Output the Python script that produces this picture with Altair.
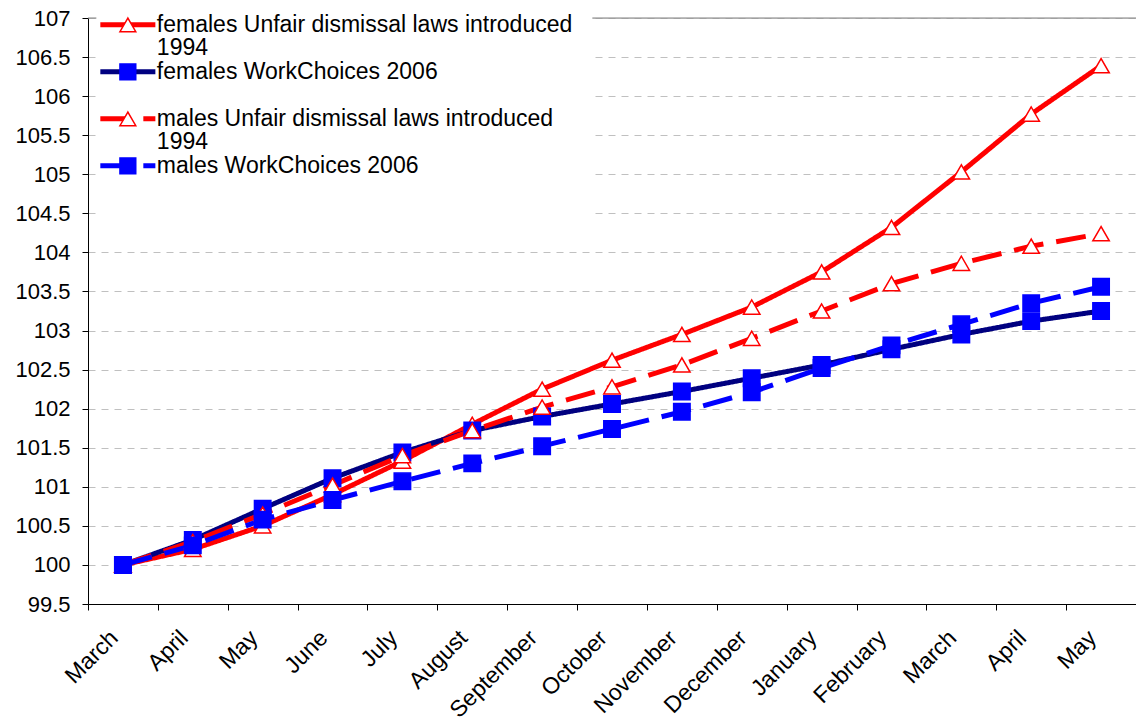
import altair as alt
import pandas as pd

# Month labels along the horizontal axis (March of one year to May of the next)
months = ["March", "April", "May", "June", "July", "August", "September",
          "October", "November", "December", "January", "February",
          "March", "April", "May"]

series_names = [
    "females Unfair dismissal laws introduced 1994",
    "females WorkChoices 2006",
    "males Unfair dismissal laws introduced 1994",
    "males WorkChoices 2006",
]
# Marker layer keys (kept distinct so its legend stays separate from the lines')
marker_keys = [s + " " for s in series_names]

# Index values (starting month = 100)
females_unfair = [100.0, 100.2, 100.5, 100.9, 101.33, 101.8, 102.25, 102.62,
                  102.95, 103.3, 103.75, 104.32, 105.03, 105.77, 106.39]
females_workchoices = [100.0, 100.32, 100.72, 101.11, 101.44, 101.72, 101.9,
                       102.06, 102.22, 102.39, 102.56, 102.76, 102.95, 103.12,
                       103.25]
males_unfair = [100.0, 100.3, 100.65, 101.02, 101.4, 101.72, 102.02, 102.28,
                102.56, 102.9, 103.25, 103.6, 103.86, 104.08, 104.24]
males_workchoices = [100.0, 100.25, 100.58, 100.83, 101.07, 101.3, 101.52,
                     101.74, 101.96, 102.21, 102.52, 102.81, 103.08, 103.35,
                     103.56]

y_ticks = [99.5, 100, 100.5, 101, 101.5, 102, 102.5, 103, 103.5, 104, 104.5,
           105, 105.5, 106, 106.5, 107]

line_colors = ["#FF0000", "#000080", "#FF0000", "#0000FF"]
line_dashes = [[1, 0], [1, 0], [30, 13], [30, 13]]
marker_shapes = ["triangle-up", "square", "triangle-up", "square"]
marker_fills = ["#FFFFFF", "#0000FF", "#FFFFFF", "#0000FF"]
marker_strokes = ["#FF0000", "#0000FF", "#FF0000", "#0000FF"]

rows = []
for name, key, values in zip(series_names, marker_keys,
                             [females_unfair, females_workchoices,
                              males_unfair, males_workchoices]):
    for i, v in enumerate(values):
        rows.append({"idx": i, "value": v, "series": name, "marker": key})
df = pd.DataFrame(rows)

FONT = "Liberation Sans"
month_expr = "[" + ",".join("'%s'" % m for m in months) + "][datum.value]"
wrap_expr = ("indexof(datum.label, ' 1994') > 0 ? "
             "[replace(datum.label, ' 1994', ''), '1994'] : [datum.label, '']")

x_enc = alt.X(
    "idx:O",
    title=None,
    scale=alt.Scale(paddingInner=0, paddingOuter=0),
    axis=alt.Axis(
        labelExpr=month_expr, labelAngle=-45, labelAlign="right",
        labelBaseline="middle", labelPadding=24, labelOffset=-9,
        labelFont=FONT, labelFontSize=23, labelColor="black",
        tickBand="extent", tickSize=6, tickColor="black",
        domainColor="black", grid=False, labelOverlap=False,
    ),
)
y_scale = alt.Scale(domain=[99.5, 107], nice=False, zero=False)
y_axis = alt.Axis(
    values=y_ticks, format="~g", labelFont=FONT, labelFontSize=22,
    labelColor="black", tickSize=6, tickColor="black",
    domainColor="black", labelPadding=12, grid=True, gridColor="#C0C0C0",
    gridDash=[7, 6], minExtent=88, maxExtent=88, labelOverlap=False,
)

# Two legends drawn on top of each other: line samples, then the markers.
# Both use the same entry size so their rows line up exactly.
line_sample = "M-4.47,0L4.47,0"
line_legend = alt.Legend(
    title=None, orient="none", legendX=8.35, legendY=-24.65, padding=20,
    symbolType=line_sample, symbolSize=151.6, symbolStrokeWidth=5,
    labelFont=FONT, labelFontSize=23, labelColor="black", labelLimit=0,
    labelExpr=wrap_expr, labelOffset=17.5, rowPadding=0,
    fillColor="white",
)
marker_legend = alt.Legend(
    title=None, orient="none", legendX=8.35, legendY=-24.65, padding=20,
    symbolSize=250, symbolStrokeWidth=1.5,
    labelFont=FONT, labelFontSize=23, labelOpacity=0, labelLimit=0,
    labelExpr=wrap_expr, labelOffset=17.5, rowPadding=0,
)

top_rule = alt.Chart(pd.DataFrame({"y": [107]})).mark_rule(
    color="#808080", strokeWidth=1
).encode(y=alt.Y("y:Q", title=None, scale=y_scale, axis=y_axis))

lines = alt.Chart(df).mark_line(strokeWidth=5).encode(
    x=x_enc,
    y=alt.Y("value:Q", title=None, scale=y_scale, axis=y_axis),
    color=alt.Color("series:N",
                    scale=alt.Scale(domain=series_names, range=line_colors),
                    legend=line_legend),
    strokeDash=alt.StrokeDash("series:N",
                              scale=alt.Scale(domain=series_names,
                                              range=line_dashes),
                              legend=line_legend),
)

points = alt.Chart(df).mark_point(size=270, strokeWidth=1.5,
                                  opacity=1).encode(
    x=x_enc,
    y=alt.Y("value:Q", title=None, scale=y_scale, axis=y_axis),
    shape=alt.Shape("marker:N",
                    scale=alt.Scale(domain=marker_keys, range=marker_shapes),
                    legend=marker_legend),
    fill=alt.Fill("marker:N",
                  scale=alt.Scale(domain=marker_keys, range=marker_fills),
                  legend=marker_legend),
    stroke=alt.Stroke("marker:N",
                      scale=alt.Scale(domain=marker_keys, range=marker_strokes),
                      legend=marker_legend),
)

chart = alt.layer(lines, points, top_rule).properties(
    width=1048,
    height=586,
    padding={"left": 88, "top": 18, "right": 0, "bottom": 117},
    autosize=alt.AutoSizeParams(type="none"),
).configure_view(stroke=None).configure(
    background="white",
    style={"guide-label": {"lineHeight": 23}},
)

chart.save("out.html", embed_options={"renderer": "svg", "actions": False})
